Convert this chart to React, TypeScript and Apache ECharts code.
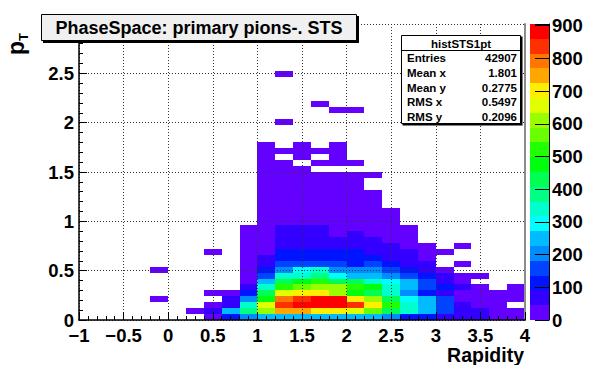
import React, { useEffect, useRef } from "react";
import * as echarts from "echarts";

const FONT = "'Liberation Sans', Arial, Helvetica, sans-serif";

// ---- axes ----
const xMin = -1;
const xMax = 4;
const yMin = 0;
const yMax = 3;
const xTickStep = 0.5;
const yTickStep = 0.5;

// ---- histogram binning ----
const xBinWidth = 0.2;
const yBinWidth = 0.06;

// ---- colour scale ----
const zMax = 905;
const zTickStep = 100;

// lower edge of every rapidity bin that holds entries
const rapidityBinLow = [-0.2, 0.2, 0.4, 0.6, 0.8, 1.0, 1.2, 1.4, 1.6, 1.8, 2.0, 2.2, 2.4, 2.6, 2.8, 3.0, 3.2, 3.4, 3.6, 3.8];

// bin contents per pT bin (from pT = 0 upward, width 0.06) for each rapidity bin
const countsYm0p2 = [0, 0, 0, 2, 0, 0, 0, 0, 1];
const countsY0p2 = [0, 3];
const countsY0p4 = [30, 80, 25, 0, 12, 0, 0, 0, 0, 0, 0, 2];
const countsY0p6 = [115, 250, 70, 50, 20];
const countsY0p8 = [200, 390, 345, 205, 115, 65, 40, 35, 30, 25, 20, 17, 14, 11, 8, 5];
const countsY1p0 = [250, 611, 660, 478, 432, 340, 250, 160, 115, 70, 50, 42, 38, 34, 30, 27, 24, 21, 19, 17, 15, 13, 11, 10, 9, 8, 7, 6, 5, 4];
const countsY1p2 = [252, 730, 850, 790, 660, 525, 430, 345, 205, 160, 120, 100, 80, 70, 62, 50, 40, 36, 32, 28, 25, 22, 19, 16, 14, 12, 10, 0, 6, 0, 0, 0, 0, 2, 0, 0, 0, 0, 0, 0, 0, 1];
const countsY1p4 = [255, 760, 895, 845, 705, 570, 480, 350, 300, 165, 125, 105, 85, 75, 60, 52, 42, 38, 33, 29, 25, 22, 19, 16, 14, 12, 0, 9, 8, 6];
const countsY1p6 = [250, 710, 903, 895, 700, 615, 525, 390, 345, 170, 130, 110, 88, 72, 62, 50, 41, 36, 32, 28, 24, 21, 18, 15, 13, 0, 9, 0, 7, 0, 0, 0, 0, 0, 0, 0, 2];
const countsY1p8 = [248, 705, 890, 885, 620, 605, 440, 300, 210, 160, 125, 100, 80, 65, 44, 40, 37, 33, 29, 25, 22, 19, 16, 14, 12, 0, 9, 8, 7, 5, 0, 0, 0, 0, 0, 2];
const countsY2p0 = [245, 670, 840, 705, 480, 520, 435, 250, 205, 120, 110, 95, 75, 62, 50, 42, 38, 34, 30, 27, 23, 20, 17, 14, 12, 0, 8, 0, 0, 0, 0, 0, 0, 0, 0, 2];
const countsY2p2 = [240, 570, 710, 615, 430, 480, 345, 250, 200, 160, 115, 90, 70, 55, 42, 36, 30, 25, 20, 16, 12, 9, 0, 0, 4];
const countsY2p4 = [205, 430, 520, 430, 345, 340, 295, 205, 160, 120, 85, 70, 55, 42, 35, 28, 22, 16, 11];
const countsY2p6 = [120, 340, 345, 300, 205, 250, 250, 165, 120, 80, 65, 50, 40, 30, 22, 14];
const countsY2p8 = [110, 250, 250, 245, 115, 160, 150, 110, 80, 60, 40, 30, 20];
const countsY3p0 = [75, 160, 165, 155, 70, 100, 75, 55, 40, 0, 0, 8];
const countsY3p2 = [65, 80, 70, 40, 35, 50, 38, 30, 0, 6, 0, 0, 5];
const countsY3p4 = [55, 62, 40, 35, 30, 25, 0, 12];
const countsY3p6 = [38, 35, 30, 25, 18];
const countsY3p8 = [30, 28, 0, 20, 15, 10];

const countsByRapidityBin = [
  countsYm0p2, countsY0p2, countsY0p4, countsY0p6, countsY0p8, countsY1p0, countsY1p2,
  countsY1p4, countsY1p6, countsY1p8, countsY2p0, countsY2p2, countsY2p4, countsY2p6,
  countsY2p8, countsY3p0, countsY3p2, countsY3p4, countsY3p6, countsY3p8,
];

// ROOT "pretty palette" with 20 contours
const paletteColors = [
  "#6300ff", "#3300ff", "#0014ff", "#0044ff", "#008bff", "#00bbff", "#00fffc", "#00ffcc", "#00ff85", "#00ff55",
  "#00ff0e", "#22ff00", "#69ff00", "#99ff00", "#e0ff00", "#ffee00", "#ffa700", "#ff7700", "#ff3000", "#ff0000",
];

const titleText = "PhaseSpace: primary pions-. STS";
const xTitle = "Rapidity";
const statsName = "histSTS1pt";
const statsLabels = ["Entries", "Mean x", "Mean y", "RMS x", "RMS y"];
const statsValues = ["42907", "1.801", "0.2775", "0.5497", "0.2096"];

export default function App() {
  const ref = useRef<HTMLDivElement>(null);

  useEffect(() => {
    if (!ref.current) return;
    const chart = echarts.init(ref.current, undefined, { renderer: "svg" });

    const cells: number[][] = [];
    rapidityBinLow.forEach((x0, i) => {
      countsByRapidityBin[i].forEach((n, j) => {
        if (n > 0) cells.push([x0, j * yBinWidth, n]);
      });
    });
    const nBands = paletteColors.length;
    const bandWidth = zMax / nBands;
    const colorOf = (n: number) => paletteColors[Math.min(nBands - 1, Math.floor(n / bandWidth))];
    const paletteBands = paletteColors.map((_, i) => [i * bandWidth, (i + 1) * bandWidth, i]);

    const bold = (size: number) => ({ fontFamily: FONT, fontWeight: "bold" as const, fontSize: size, color: "#000" });

    const statsRowY = [57.5, 72.5, 87.5, 102, 116.5];

    const graphic: any[] = [
      // title pave
      { type: "rect", z: 100, shape: { x: 43, y: 16, width: 316, height: 27 }, style: { fill: "#000" } },
      { type: "rect", z: 101, shape: { x: 41.5, y: 14.5, width: 315, height: 26 }, style: { fill: "#f0f0f0", stroke: "#000", lineWidth: 1 } },
      { type: "text", z: 102, x: 199, y: 28, style: { text: titleText, fontFamily: FONT, fontWeight: "bold", fontSize: 18, fill: "#000", align: "center", verticalAlign: "middle" } },
      // stats box
      { type: "rect", z: 100, shape: { x: 402.5, y: 36.5, width: 120, height: 89 }, style: { fill: "#000" } },
      { type: "rect", z: 101, shape: { x: 401.5, y: 35.5, width: 119, height: 88 }, style: { fill: "#fff", stroke: "#000", lineWidth: 1 } },
      { type: "line", z: 102, shape: { x1: 401.5, y1: 50.5, x2: 520.5, y2: 50.5 }, style: { stroke: "#000", lineWidth: 1 } },
      { type: "text", z: 102, x: 461, y: 43.5, style: { text: statsName, fontFamily: FONT, fontWeight: "bold", fontSize: 11.5, fill: "#000", align: "center", verticalAlign: "middle" } },
      // axis titles
      { type: "text", z: 102, x: 524, y: 354.5, style: { text: xTitle, fontFamily: FONT, fontWeight: "bold", fontSize: 19.5, fill: "#000", align: "right", verticalAlign: "middle" } },
      { type: "text", z: 102, x: 16, y: 55, rotation: Math.PI / 2, style: { text: "p", fontFamily: FONT, fontWeight: "bold", fontSize: 23, fill: "#000", align: "left", verticalAlign: "middle" } },
      { type: "text", z: 102, x: 23.5, y: 41, rotation: Math.PI / 2, style: { text: "T", fontFamily: FONT, fontWeight: "bold", fontSize: 13, fill: "#000", align: "left", verticalAlign: "middle" } },
    ];
    statsLabels.forEach((lab, i) => {
      graphic.push({ type: "text", z: 102, x: 407, y: statsRowY[i], style: { text: lab, fontFamily: FONT, fontWeight: "bold", fontSize: 11.5, fill: "#000", align: "left", verticalAlign: "middle" } });
      graphic.push({ type: "text", z: 102, x: 517, y: statsRowY[i], style: { text: statsValues[i], fontFamily: FONT, fontWeight: "bold", fontSize: 11.5, fill: "#000", align: "right", verticalAlign: "middle" } });
    });

    const option: any = {
      animation: false,
      backgroundColor: "#fff",
      grid: [
        { left: 79, top: 24, width: 446, height: 296, outerBoundsMode: "none" },
        { left: 530, top: 24, width: 19, height: 296, outerBoundsMode: "none" },
      ],
      xAxis: [
        {
          type: "value", gridIndex: 0, min: xMin, max: xMax, interval: xTickStep, z: 5,
          axisLine: { show: true, onZero: false, lineStyle: { color: "#000", width: 1.5 } },
          axisTick: { show: true, inside: true, length: 8, lineStyle: { color: "#000", width: 1 } },
          minorTick: { show: true, splitNumber: 5, length: 4, lineStyle: { color: "#000", width: 1 } },
          splitLine: { show: true, lineStyle: { color: "#333", type: [1, 2], width: 1 } },
          axisLabel: { ...bold(18.5), margin: 6, formatter: (v: number) => (v < 0 ? "\u2212" + -v : String(v)) },
        },
        { type: "value", gridIndex: 1, min: 0, max: 1, show: false },
      ],
      yAxis: [
        {
          type: "value", gridIndex: 0, min: yMin, max: yMax, interval: yTickStep, z: 5,
          axisLine: { show: true, onZero: false, lineStyle: { color: "#000", width: 1.5 } },
          axisTick: { show: true, inside: true, length: 8, lineStyle: { color: "#000", width: 1 } },
          minorTick: { show: true, splitNumber: 5, length: 4, lineStyle: { color: "#000", width: 1 } },
          splitLine: { show: true, lineStyle: { color: "#333", type: [1, 2], width: 1 } },
          axisLabel: { ...bold(18.5), margin: 5, showMaxLabel: false },
        },
        {
          type: "value", gridIndex: 0, position: "right", min: yMin, max: yMax, z: 5,
          axisLine: { show: true, onZero: false, lineStyle: { color: "#8c8c8c", width: 2 } },
          axisTick: { show: false }, axisLabel: { show: false }, splitLine: { show: false },
        },
        {
          type: "value", gridIndex: 1, position: "right", min: 0, max: zMax, interval: zTickStep, z: 5,
          axisLine: { show: true, onZero: false, lineStyle: { color: "#000", width: 1 } },
          axisTick: { show: true, inside: true, length: 14, lineStyle: { color: "#000", width: 1 } },
          axisLabel: { ...bold(18.5), margin: 3, formatter: (v: number) => (v % zTickStep === 0 ? String(v) : "") },
          splitLine: { show: false },
        },
      ],
      series: [
        {
          type: "custom", xAxisIndex: 0, yAxisIndex: 0, z: 2, clip: true,
          data: cells,
          renderItem: (_p: any, api: any) => {
            const x0 = api.value(0), y0 = api.value(1), n = api.value(2);
            const a = api.coord([x0, y0]);
            const b = api.coord([x0 + xBinWidth, y0 + yBinWidth]);
            const l = Math.round(a[0]), r = Math.round(b[0]);
            const t = Math.round(b[1]), btm = Math.round(a[1]);
            return { type: "rect", shape: { x: l, y: t, width: r - l, height: btm - t }, style: { fill: colorOf(n) } };
          },
        },
        {
          type: "custom", xAxisIndex: 1, yAxisIndex: 2, z: 2,
          data: paletteBands,
          renderItem: (_p: any, api: any) => {
            const lo = api.value(0), hi = api.value(1), i = api.value(2);
            const a = api.coord([0, lo]);
            const b = api.coord([1, hi]);
            const t = Math.round(b[1]), btm = Math.round(a[1]);
            return { type: "rect", shape: { x: a[0], y: t, width: b[0] - a[0], height: btm - t }, style: { fill: paletteColors[i] } };
          },
        },
      ],
      graphic,
    };
    chart.setOption(option);
    return () => chart.dispose();
  }, []);

  return <div ref={ref} style={{ position: "absolute", left: 0, top: 0, width: 609, height: 365 }} />;
}
